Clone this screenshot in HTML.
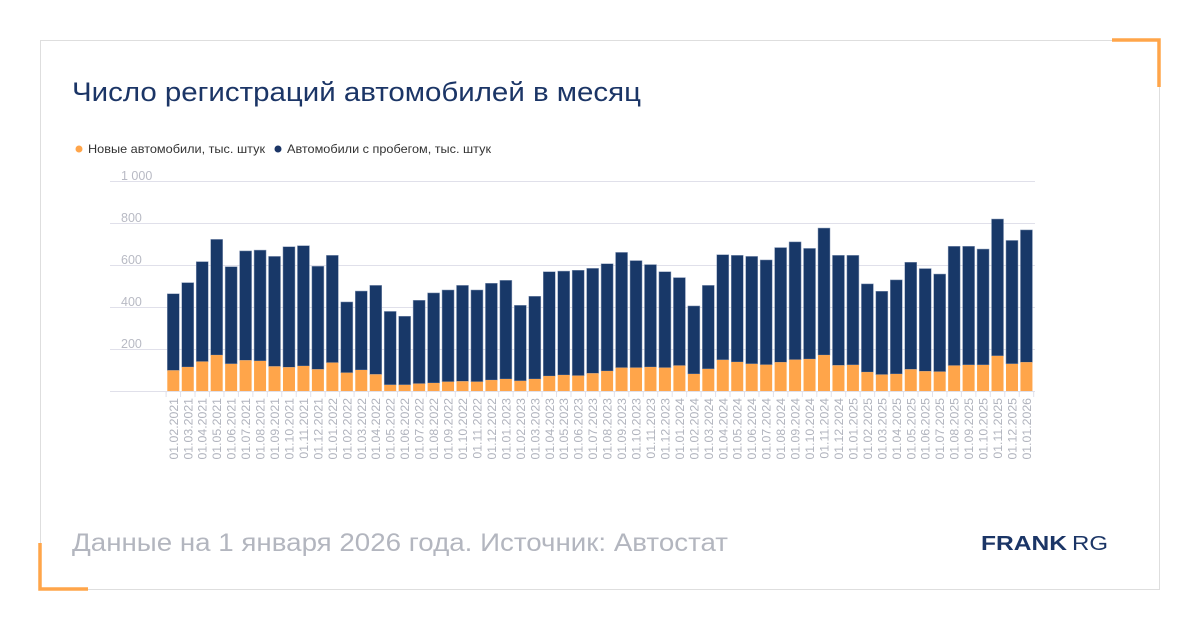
<!DOCTYPE html>
<html><head><meta charset="utf-8"><style>
html,body{margin:0;padding:0;background:#fff;width:1200px;height:630px;overflow:hidden}
text{font-family:"Liberation Sans","DejaVu Sans",sans-serif}
</style></head><body>
<svg width="1200" height="630" viewBox="0 0 1200 630" xmlns="http://www.w3.org/2000/svg">
<rect x="40.5" y="40.5" width="1119" height="549" fill="#fff" stroke="#dedede" stroke-width="1"/>
<path d="M1112 40 H1159 V87" fill="none" stroke="#ffa54a" stroke-width="3.5"/>
<path d="M40 543 V589 H88" fill="none" stroke="#ffa54a" stroke-width="3.5"/>
<text x="72" y="101" font-size="27" fill="#1b3566" textLength="569" lengthAdjust="spacingAndGlyphs">Число регистраций автомобилей в месяц</text>
<circle cx="79" cy="149" r="3.5" fill="#ffa54a"/>
<text x="88" y="153" font-size="12" fill="#333" textLength="177" lengthAdjust="spacingAndGlyphs">Новые автомобили, тыс. штук</text>
<circle cx="278" cy="149" r="3.5" fill="#1b3566"/>
<text x="287" y="153" font-size="12" fill="#333" textLength="204" lengthAdjust="spacingAndGlyphs">Автомобили с пробегом, тыс. штук</text>
<g id="grid" stroke="#e0e0ea" stroke-width="1">
<line x1="110" x2="1035" y1="181.5" y2="181.5"/>
<line x1="110" x2="1035" y1="223.5" y2="223.5"/>
<line x1="110" x2="1035" y1="265.5" y2="265.5"/>
<line x1="110" x2="1035" y1="307.5" y2="307.5"/>
<line x1="110" x2="1035" y1="349.5" y2="349.5"/>
<line x1="110" x2="1035" y1="391.5" y2="391.5"/>
</g>
<g font-size="12.5" fill="#b8bac4">
<text x="121" y="180">1 000</text>
<text x="121" y="222">800</text>
<text x="121" y="264">600</text>
<text x="121" y="306">400</text>
<text x="121" y="348">200</text>
</g>
<g id="bars"></g>
<text x="72" y="551" font-size="25" fill="#b3b6bf" textLength="656" lengthAdjust="spacingAndGlyphs">Данные на 1 января 2026 года. Источник: Автостат</text>
<text x="981" y="550" font-size="20" font-weight="bold" fill="#1b3566" textLength="86" lengthAdjust="spacingAndGlyphs">FRANK</text>
<text x="1072" y="550" font-size="20" fill="#1b3566" textLength="36" lengthAdjust="spacingAndGlyphs">RG</text>
</svg>
<script>
var tot=[463,516,616,722,592,667,671,641,687,692,594,646,424,476,503,379,356,432,467,481,503,481,513,527,408,451,568,571,575,584,606,660,621,602,568,540,405,503,649,646,641,624,683,710,679,776,646,646,510,475,529,613,583,557,689,689,676,819,717,767];
var nw=[98,114,140,171,129,146,143,117,113,119,103,135,87,100,79,29,29,35,38,44,46,44,52,57,48,57,71,76,73,84,95,111,111,114,111,121,81,105,148,138,129,125,137,149,152,171,122,124,90,78,81,103,94,92,121,124,124,167,129,137];
var g=document.getElementById('bars'),s='';
for(var i=0;i<60;i++){
 var x=167.3+i*14.46,w=12,y0=391,k=0.21;
 var yt=y0-tot[i]*k,yn=y0-nw[i]*k;
 s+='<rect x="'+x+'" y="'+yt+'" width="'+w+'" height="'+(yn-yt)+'" fill="#183868" stroke="#8a9bb8" stroke-width="0.5"/>';
 s+='<rect x="'+x+'" y="'+yn+'" width="'+w+'" height="'+(y0-yn)+'" fill="#ffa54a"/>';
 var cx=x+w/2;
 s+='<line x1="'+(x-1.2)+'" x2="'+(x-1.2)+'" y1="392" y2="397" stroke="#e0e0ea"/>';
 var m=(i+1)%12+1,yr=2021+Math.floor((i+1)/12);
 var lab='01.'+(m<10?'0':'')+m+'.'+yr;
 s+='<text transform="translate('+(cx+4.5)+',398) rotate(-90)" text-anchor="end" font-size="12.3" fill="#b0b3bd">'+lab+'</text>';
}
s+='<line x1="'+(167.3+60*14.46-1.2)+'" x2="'+(167.3+60*14.46-1.2)+'" y1="392" y2="397" stroke="#e0e0ea"/>';
g.innerHTML=s;
</script>
</body></html>
